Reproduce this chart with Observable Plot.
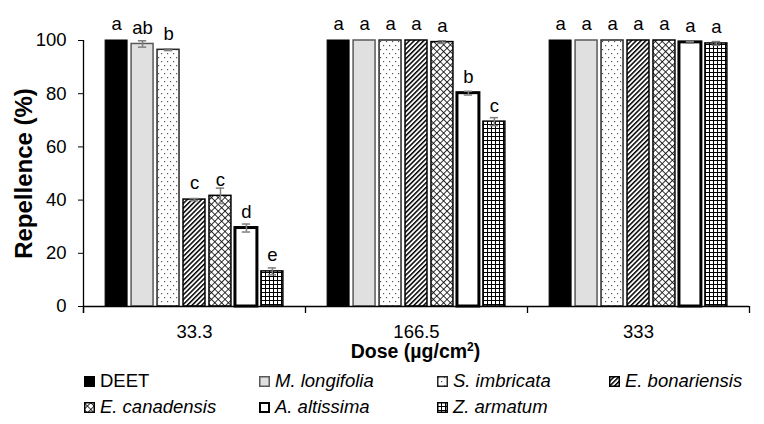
<!DOCTYPE html>
<html>
<head>
<meta charset="utf-8">
<script src="https://cdn.jsdelivr.net/npm/d3@7"></script>
<script src="https://cdn.jsdelivr.net/npm/@observablehq/plot@0.6"></script>
<style>
  body { margin: 0; background: #fff; }
  #wrap { position: relative; width: 764px; height: 424px; font-family: "Liberation Sans", Arial, sans-serif; color: #000; }
  #chart svg { overflow: visible; }
  g[aria-label="y-axis label"] text { font-size: 24px; font-weight: bold; }
  #xtitle { position: absolute; left: 82px; width: 667px; top: 340px; text-align: center; font-weight: bold; font-size: 19.5px; line-height: 22px; }
  #xtitle sup { font-size: 12px; line-height: 0; vertical-align: 0.55em; }
  #legend { position: absolute; left: 84px; top: 368px; display: grid; grid-template-columns: 175px 178px 172px 160px; grid-auto-rows: 26px; font-size: 18.5px; }
  .item { display: flex; align-items: center; white-space: nowrap; }
  .item svg { margin-right: 5px; flex: none; }
  .it { font-style: italic; }
</style>
</head>
<body>
<div id="wrap">
  <svg width="0" height="0" style="position:absolute">
    <defs>
      <pattern id="dots" width="6" height="8" patternUnits="userSpaceOnUse">
        <rect width="6" height="8" fill="#fff"/>
        <rect x="1" y="1" width="1.2" height="1.2" fill="#555"/>
        <rect x="4" y="5" width="1.2" height="1.2" fill="#555"/>
      </pattern>
      <pattern id="diag" width="3.4" height="3.4" patternUnits="userSpaceOnUse" patternTransform="rotate(45)">
        <rect width="3.4" height="3.4" fill="#fff"/>
        <rect width="1.5" height="3.4" fill="#000"/>
      </pattern>
      <pattern id="cross" width="4.8" height="4.8" patternUnits="userSpaceOnUse" patternTransform="rotate(45)">
        <rect width="4.8" height="4.8" fill="#fff"/>
        <rect width="4.8" height="0.8" fill="#000"/>
        <rect width="0.8" height="4.8" fill="#000"/>
      </pattern>
      <pattern id="grid" width="4" height="4" patternUnits="userSpaceOnUse">
        <rect width="4" height="4" fill="#fff"/>
        <rect width="4" height="1" fill="#000"/>
        <rect width="1" height="4" fill="#000"/>
      </pattern>
    </defs>
  </svg>
  <div id="chart"></div>
  <div id="xtitle">Dose (µg/cm<sup>2</sup>)</div>
  <div id="legend"></div>
</div>
<script>
// ---- data ----
const doses = ["33.3", "166.5", "333"];
const species = ["DEET", "M. longifolia", "S. imbricata", "E. bonariensis", "E. canadensis", "A. altissima", "Z. armatum"];
const italicSpecies = [false, true, true, true, true, true, true];
const rep33 = [100, 98.7, 96.5, 40.2, 41.6, 29.5, 13.2];
const rep166 = [100, 100, 100, 100, 99.4, 80.2, 69.5];
const rep333 = [100, 100, 100, 100, 100, 99.3, 98.9];
const err33 = [0, 1.2, 0.3, 0.4, 2.9, 1.5, 1.3];
const err166 = [0, 0, 0, 0, 0.5, 0.7, 1.5];
const err333 = [0, 0, 0, 0, 0, 0.3, 0.7];
const letters33 = ["a", "ab", "b", "c", "c", "d", "e"];
const letters166 = ["a", "a", "a", "a", "a", "b", "c"];
const letters333 = ["a", "a", "a", "a", "a", "a", "a"];
const yTicks = [0, 20, 40, 60, 80, 100];

// ---- styles ----
const seriesStyle = {
  "DEET": {fill: "#000", stroke: "#000", sw: 1},
  "M. longifolia": {fill: "#e0e0e0", stroke: "#595959", sw: 1.5},
  "S. imbricata": {fill: "url(#dots)", stroke: "#262626", sw: 1.5},
  "E. bonariensis": {fill: "url(#diag)", stroke: "#000", sw: 1.5},
  "E. canadensis": {fill: "url(#cross)", stroke: "#000", sw: 1.5},
  "A. altissima": {fill: "#fff", stroke: "#000", sw: 3},
  "Z. armatum": {fill: "url(#grid)", stroke: "#000", sw: 1.5}
};
const X_DOMAIN = [-1.275, 7.275];
const HALF = 0.423;
const CAP = 0.16;

const values = [rep33, rep166, rep333];
const errors = [err33, err166, err333];
const letters = [letters33, letters166, letters333];
const table = doses.flatMap((dose, g) => species.map((sp, i) => ({
  dose, species: sp, i, value: values[g][i], err: errors[g][i], letter: letters[g][i]
})));
const withErr = table.filter(d => d.err > 0);

const barMarks = species.map(sp => Plot.rectY(table.filter(d => d.species === sp), {
  fx: "dose",
  x1: d => d.i - HALF, x2: d => d.i + HALF,
  y1: 0, y2: "value",
  fill: seriesStyle[sp].fill, stroke: seriesStyle[sp].stroke, strokeWidth: seriesStyle[sp].sw
}));

const chart = Plot.plot({
  width: 764, height: 342,
  marginTop: 40, marginBottom: 36, marginLeft: 82, marginRight: 15,
  style: {fontFamily: "'Liberation Sans', Arial, sans-serif", fontSize: "18.5px", color: "#000", background: "#fff"},
  fx: {domain: doses, padding: 0, axis: "bottom", tickSize: 0, tickPadding: 18, label: null},
  x: {domain: X_DOMAIN, axis: null},
  y: {domain: [0, 100], ticks: yTicks, tickSize: 5, tickPadding: 12, label: "Repellence (%)", labelAnchor: "center", labelOffset: 69, labelArrow: "none"},
  marks: [
    ...barMarks,
    Plot.ruleX(withErr, {fx: "dose", x: "i", y1: d => d.value - d.err, y2: d => d.value + d.err, stroke: "#7f7f7f", strokeWidth: 1.5}),
    Plot.ruleY(withErr, {fx: "dose", x1: d => d.i - CAP, x2: d => d.i + CAP, y: d => d.value + d.err, stroke: "#7f7f7f", strokeWidth: 1.5}),
    Plot.ruleY(withErr, {fx: "dose", x1: d => d.i - CAP, x2: d => d.i + CAP, y: d => d.value - d.err, stroke: "#7f7f7f", strokeWidth: 1.5}),
    Plot.text(table, {fx: "dose", x: "i", y: "value", text: "letter", dy: -16, fontSize: 18.5}),
    Plot.ruleY([0], {stroke: "#000", strokeWidth: 1.3}),
    Plot.ruleX([doses[0]], {fx: d => d, x: () => X_DOMAIN[0], y1: 100, y2: 0, insetBottom: -7, stroke: "#000", strokeWidth: 1.3}),
    Plot.ruleX(doses, {fx: d => d, x: () => X_DOMAIN[0], y1: 0, y2: 0, insetBottom: -7, stroke: "#000", strokeWidth: 1.3}),
    Plot.ruleX([doses[doses.length - 1]], {fx: d => d, x: () => X_DOMAIN[1], y1: 0, y2: 0, insetBottom: -7, stroke: "#000", strokeWidth: 1.3})
  ]
});
document.getElementById("chart").appendChild(chart);

// ---- legend ----
const legend = d3.select("#legend");
species.forEach((sp, i) => {
  const st = seriesStyle[sp];
  const item = legend.append("div").attr("class", "item");
  const sw = item.append("svg").attr("width", 11).attr("height", 11);
  sw.append("rect").attr("x", Math.min(st.sw, 2) / 2).attr("y", Math.min(st.sw, 2) / 2)
    .attr("width", 11 - Math.min(st.sw, 2)).attr("height", 11 - Math.min(st.sw, 2))
    .attr("fill", st.fill).attr("stroke", st.stroke).attr("stroke-width", Math.min(st.sw, 2));
  item.append("span").attr("class", italicSpecies[i] ? "it" : null).text(sp);
});
</script>
</body>
</html>
